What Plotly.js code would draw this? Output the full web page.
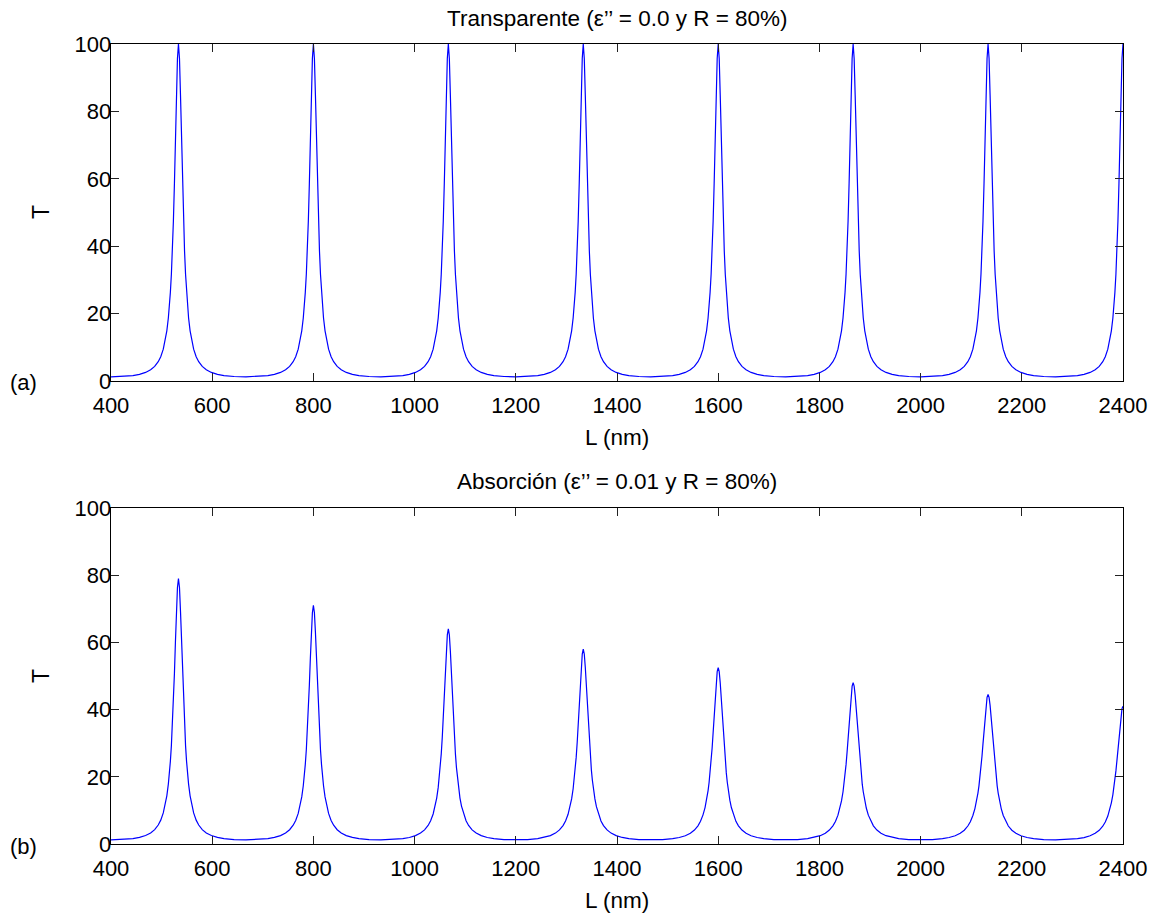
<!DOCTYPE html>
<html>
<head>
<meta charset="utf-8">
<script src="https://cdn.plot.ly/plotly-3.0.1.min.js"></script>
<style>
  html, body { margin: 0; padding: 0; background: #fff; }
  #chart { width: 1160px; height: 915px; }
</style>
</head>
<body>
<div id="chart"></div>
<script>
// Resonance (peak) positions in L (nm)
const peakL = [533.33, 800, 1066.67, 1333.33, 1600, 1866.67, 2133.33, 2400];
// Distance from each peak (nm) at which T is read; last = midway trough
const offsetL = [0, 2, 4, 6, 8, 10, 12, 14, 16, 18, 20, 23, 26, 30, 35, 40, 47, 55, 65, 77, 90, 110, 133.33];

// (a) Transparent: all peaks look identical
const T_a_profile = [100, 95.7, 84.9, 71.5, 58.5, 47.5, 38.6, 31.7, 26.3, 22.0, 18.7, 14.9, 12.1, 9.45, 7.22, 5.72, 4.32, 3.32, 2.54, 1.97, 1.62, 1.33, 1.23];

// (b) Absorption: one profile per peak
const T_b_533  = [79,   76.33, 69.31, 60.11, 50.71, 42.24, 35.10, 29.28, 24.60, 20.84, 17.82, 14.33, 11.74, 9.24, 7.10, 5.65, 4.29, 3.30, 2.53, 1.97, 1.61, 1.33, 1.23];
const T_b_800  = [71,   68.83, 63.05, 55.32, 47.24, 39.78, 33.37, 28.05, 23.71, 20.19, 17.34, 14.01, 11.52, 9.10, 7.01, 5.59, 4.25, 3.27, 2.51, 1.96, 1.61, 1.32, 1.23];
const T_b_1067 = [64,   62.22, 57.45, 50.94, 43.98, 37.43, 31.68, 26.83, 22.82, 19.53, 16.84, 13.67, 11.28, 8.94, 6.91, 5.52, 4.21, 3.25, 2.49, 1.94, 1.60, 1.32, 1.22];
const T_b_1333 = [58,   56.54, 52.59, 47.10, 41.11, 35.34, 30.19, 25.77, 22.06, 18.98, 16.44, 13.41, 11.11, 8.84, 6.86, 5.49, 4.19, 3.24, 2.49, 1.95, 1.60, 1.32, 1.22];
const T_b_1600 = [52.5, 51.30, 48.00, 43.37, 38.22, 33.16, 28.57, 24.56, 21.16, 18.30, 15.91, 13.05, 10.85, 8.67, 6.75, 5.41, 4.14, 3.21, 2.47, 1.93, 1.59, 1.31, 1.22];
const T_b_1867 = [48,   47.00, 44.24, 40.30, 35.84, 31.39, 27.27, 23.62, 20.47, 17.80, 15.55, 12.82, 10.71, 8.59, 6.71, 5.40, 4.14, 3.21, 2.47, 1.94, 1.59, 1.32, 1.22];
const T_b_2133 = [44.5, 43.64, 41.25, 37.81, 33.86, 29.86, 26.10, 22.74, 19.81, 17.30, 15.16, 12.56, 10.53, 8.47, 6.64, 5.35, 4.11, 3.20, 2.47, 1.93, 1.59, 1.31, 1.22];
const T_b_2400 = [41,   40.27, 38.22, 35.24, 31.77, 28.21, 24.83, 21.76, 19.06, 16.71, 14.71, 12.24, 10.30, 8.32, 6.54, 5.28, 4.07, 3.17, 2.45, 1.92, 1.58, 1.31, 1.21];

const xTicks = [400, 600, 800, 1000, 1200, 1400, 1600, 1800, 2000, 2200, 2400];
const yTicks = [0, 20, 40, 60, 80, 100];

const titleA = "Transparente (ε’’ = 0.0 y R = 80%)";
const titleB = "Absorción (ε’’ = 0.01 y R = 80%)";

function buildCurve(profiles) {
  const x = [], y = [];
  const last = offsetL.length - 1;
  x.push(peakL[0] - offsetL[last]); y.push(profiles[0][last]);
  for (let i = 0; i < peakL.length; i++) {
    const c = peakL[i], p = profiles[i];
    for (let k = last - 1; k >= 1; k--) { x.push(c - offsetL[k]); y.push(p[k]); }
    x.push(c); y.push(p[0]);
    if (i < peakL.length - 1) {
      for (let k = 1; k < last; k++) { x.push(c + offsetL[k]); y.push(p[k]); }
      x.push(c + offsetL[last]); y.push(p[last]);
    }
  }
  return {x, y};
}

const curveA = buildCurve(peakL.map(() => T_a_profile));
const curveB = buildCurve([T_b_533, T_b_800, T_b_1067, T_b_1333, T_b_1600, T_b_1867, T_b_2133, T_b_2400]);

const FONT = "Liberation Sans, Arial, sans-serif";

const traces = [
  {x: curveA.x, y: curveA.y, xaxis: 'x', yaxis: 'y', type: 'scatter', mode: 'lines',
   line: {color: '#0000ff', width: 1.2}, hoverinfo: 'x+y'},
  {x: curveB.x, y: curveB.y, xaxis: 'x2', yaxis: 'y2', type: 'scatter', mode: 'lines',
   line: {color: '#0000ff', width: 1.2}, hoverinfo: 'x+y'}
];

function xAxis(anchor) {
  return {
    anchor: anchor, domain: [0, 1], range: [400, 2400],
    tickmode: 'array', tickvals: xTicks, ticktext: xTicks.map(String),
    ticks: 'inside', ticklen: 8, tickwidth: 1, tickcolor: '#222',
    showline: true, linecolor: '#000', linewidth: 1.4, mirror: 'ticks',
    showgrid: false, zeroline: false, ticklabelstandoff: 4,
    tickfont: {family: FONT, size: 22, color: '#000'}
  };
}
function yAxis(anchor, domain) {
  return {
    anchor: anchor, domain: domain, range: [0, 100],
    tickmode: 'array', tickvals: yTicks, ticktext: yTicks.map(String),
    ticks: 'inside', ticklen: 8, tickwidth: 1, tickcolor: '#222',
    showline: true, linecolor: '#000', linewidth: 1.4, mirror: 'ticks',
    showgrid: false, zeroline: false, ticklabelstandoff: -6,
    tickfont: {family: FONT, size: 22, color: '#000'}
  };
}

// pixel helpers for paper coordinates (plot area: x 111..1123, y 44..844)
const px = v => (v - 111) / 1012;
const py = v => (844 - v) / 800;

function label(text, xp, yp, size, angle) {
  return {text: text, x: px(xp), y: py(yp), xref: 'paper', yref: 'paper',
          xanchor: 'center', yanchor: 'middle', showarrow: false, textangle: angle || 0,
          font: {family: FONT, size: size, color: '#000'}};
}

const layout = {
  width: 1160, height: 915,
  margin: {l: 111, r: 37, t: 44, b: 71},
  paper_bgcolor: '#fff', plot_bgcolor: '#fff',
  showlegend: false,
  xaxis: xAxis('y'),
  yaxis: yAxis('x', [0.57875, 1]),
  xaxis2: xAxis('y2'),
  yaxis2: yAxis('x2', [0, 0.42]),
  annotations: [
    label(titleA, 617, 18, 22.5),
    label(titleB, 617, 481, 22.5),
    label('L (nm)', 617, 437, 22.5),
    label('L (nm)', 617, 900, 22.5),
    label('T', 41, 212, 23, -90),
    label('T', 41, 676, 23, -90),
    label('(a)', 23, 383, 22),
    label('(b)', 23, 846, 22)
  ]
};

Plotly.newPlot('chart', traces, layout, {displayModeBar: false, staticPlot: true});
</script>
</body>
</html>
